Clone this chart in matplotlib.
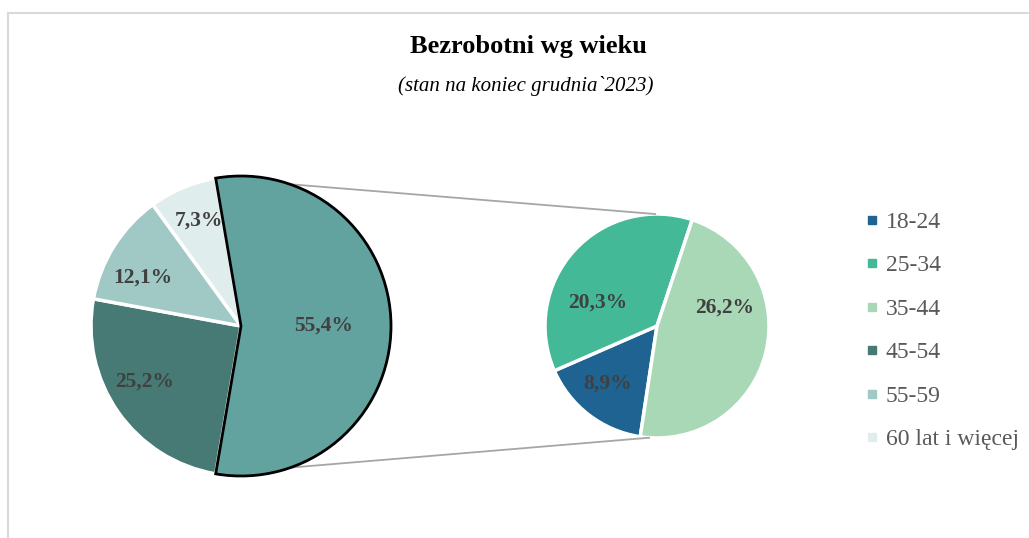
import numpy as np
import matplotlib
matplotlib.use("Agg")
from matplotlib import pyplot as plt
from matplotlib.lines import Line2D
from matplotlib.patches import Rectangle

# data
main_labels = ["45-54", "55-59", "60 lat i więcej", "Pozostałe"]
main_values = [25.2, 12.1, 7.3, 55.4]
sub_labels = ["18-24", "25-34", "35-44"]
sub_values = [8.9, 20.3, 26.2]
legend_order = ["18-24", "25-34", "35-44", "45-54", "55-59", "60 lat i więcej"]

colors = {
    "18-24": "#1F6392",
    "25-34": "#43B997",
    "35-44": "#A9D8B6",
    "45-54": "#477A75",
    "55-59": "#A0C9C5",
    "60 lat i więcej": "#E0EDED",
    "Pozostałe": "#62A39F",
}

plt.rcParams["font.family"] = ["Liberation Serif", "DejaVu Serif"]

fig = plt.figure(figsize=(10.29, 5.38), dpi=100)
ax = fig.add_axes([0, 0, 1, 1])

# chart frame
fig.patches.append(Rectangle((8 / 1029, -0.1), 1.2, (538 - 13) / 538 + 0.1,
                             transform=fig.transFigure, fill=False,
                             edgecolor="#D9D9D9", lw=1.5))

# main pie
c1, r1 = (241, 212), 150
start1 = -main_values[-1] / 100 * 360 / 2
w1, _ = ax.pie(main_values, colors=[colors[k] for k in main_labels],
               startangle=start1, counterclock=False, center=c1, radius=r1,
               wedgeprops=dict(edgecolor="white", linewidth=2.5))
w1[-1].set_edgecolor("black")
w1[-1].set_linewidth(2)
w1[-1].set_zorder(3)

# second pie
c2, r2 = (657, 212), 112
w2, _ = ax.pie(sub_values, colors=[colors[k] for k in sub_labels],
               startangle=-98.6, counterclock=False, center=c2, radius=r2,
               wedgeprops=dict(edgecolor="white", linewidth=2.5))

ax.set_xlim(0, 1029)
ax.set_ylim(0, 538)
ax.set_aspect("equal")
ax.axis("off")

def put_labels(wedges, values, center, radius, dists, offsets):
    for w, v, d, off in zip(wedges, values, dists, offsets):
        ang = np.deg2rad((w.theta1 + w.theta2) / 2 + off)
        x = center[0] + d * radius * np.cos(ang)
        y = center[1] + d * radius * np.sin(ang)
        ax.text(x, y, f"{v:.1f}%".replace(".", ","), ha="center", va="center",
                fontsize=15.5, fontweight="bold", color="#404040", zorder=5)

put_labels(w1, main_values, c1, r1, [0.74, 0.73, 0.76, 0.55], [-5, 6, -1, 0])
put_labels(w2, sub_values, c2, r2, [0.68, 0.57, 0.625], [-3, 21, 29])

# connector lines
a_top = np.deg2rad(-start1)
a_bot = np.deg2rad(start1)
for a_from, a_to in [(a_top, np.deg2rad(91)), (a_bot, np.deg2rad(-94))]:
    ax.plot([c1[0] + r1 * np.cos(a_from), c2[0] + r2 * np.cos(a_to)],
            [c1[1] + r1 * np.sin(a_from), c2[1] + r2 * np.sin(a_to)],
            color="#A6A6A6", lw=1.3, zorder=1)

# titles
fig.text(528 / 1029, 1 - 47 / 538, "Bezrobotni wg wieku", ha="center", va="center",
         fontsize=19, fontweight="bold", color="black")
fig.text(526 / 1029, 1 - 86 / 538, "(stan na koniec grudnia`2023)", ha="center",
         va="center", fontsize=15, fontstyle="italic", color="black")

# legend
handles = [Line2D([], [], marker="s", linestyle="", markersize=6,
                  markerfacecolor=colors[k], markeredgecolor=colors[k])
           for k in legend_order]
fig.legend(handles, legend_order, loc="upper left",
           bbox_to_anchor=(855 / 1029, 1 - 202 / 538), frameon=False,
           fontsize=17, labelcolor="#595959", handlelength=0.6,
           handletextpad=0.3, labelspacing=0.93, borderaxespad=0)

fig.savefig("out.png", dpi=100)
